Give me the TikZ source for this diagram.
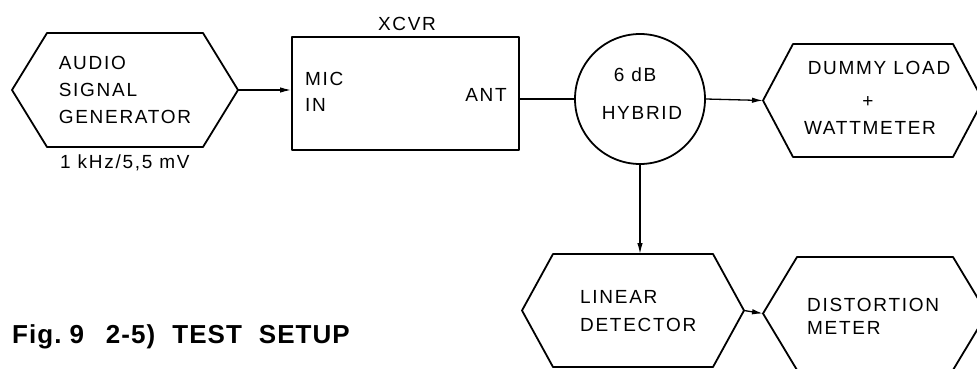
\documentclass[tikz,border=0pt]{standalone}
\usepackage{fontspec}
\setmainfont{Liberation Sans}
\usetikzlibrary{arrows.meta}
\newfontfamily\boxfont{Liberation Sans}[LetterSpace=9]
\newfontfamily\capfont{Liberation Sans Bold}[LetterSpace=4]
\tikzset{
  body/.style={draw=none, inner sep=0pt, outer sep=0pt, align=left,
    font=\boxfont\fontsize{19}{27}\selectfont},
  shapeline/.style={line width=1.8pt, line join=round},
  conn/.style={line width=1.3pt},
  arr/.style={conn, -{Latex[length=11pt,width=5.5pt]}},
  txt/.style={inner sep=0pt, align=left, font=\boxfont\fontsize{19}{26}\selectfont},
}
\newcommand\hexdraw[2]{%
  \coordinate (#1-r) at ([xshift=#2pt]#1.east);
  \coordinate (#1-l) at ([xshift=-#2pt]#1.west);
  \draw[shapeline] (#1.north west) -- (#1.north east) -- (#1-r) -- (#1.south east)
    -- (#1.south west) -- (#1-l) -- cycle;}
\begin{document}
\begin{tikzpicture}[x=1pt,y=-1pt]
\useasboundingbox (0,0) rectangle (977,369);
% audio signal generator
\node[body, minimum width=156pt, minimum height=114pt] (gen) at (125,90) {AUDIO\\SIGNAL\\GENERATOR};
\hexdraw{gen}{35}
\node[txt, anchor=west] (genlab) at (60,163) {1 kHz/5,5 mV};
% transceiver
\node[draw, shapeline, minimum width=227pt, minimum height=113pt, inner sep=0pt] (xcvr) at (405.5,93.5) {};
\node[txt] (xcvrlab) at (407,24) {XCVR};
\node[txt, anchor=west] (mic) at (305,92) {MIC\\IN};
\node[txt, anchor=east] (ant) at (507,95) {ANT};
% hybrid
\node[draw, shapeline, circle, minimum size=130pt, inner sep=0pt] (hyb) at (640,99) {};
\node[txt] (hyb1) at (635,75) {6 dB};
\node[txt] (hyb2) at (642,113) {HYBRID};
% dummy load
\node[body, align=center, minimum width=160pt, minimum height=113pt] (dum) at (873,100.5) {};
\hexdraw{dum}{30}
\node[txt] (dum1) at (879,68) {DUMMY LOAD};
\node[txt] (dum2) at (868,102) {+};
\node[txt] (dum3) at (870,128) {WATTMETER};
% linear detector
\node[body, minimum width=160pt, minimum height=113pt] (lin) at (633,310.5) {};
\hexdraw{lin}{31}
\node[txt, anchor=west, font=\boxfont\fontsize{19}{28}\selectfont] (lintxt) at (580,311) {LINEAR\\DETECTOR};
% distortion meter
\node[body, minimum width=156pt, minimum height=113pt] (dis) at (875,313.5) {};
\hexdraw{dis}{34}
\node[txt, anchor=west, font=\boxfont\fontsize{19}{23}\selectfont] (distxt) at (807,316) {DISTORTION\\METER};
% connectors
\draw[arr] (gen-r) -- (xcvr.west |- gen-r);
\draw[conn] (hyb.west -| xcvr.east) -- (hyb.west);
\draw[arr] (hyb.east) -- (dum-l);
\draw[arr] (hyb.south) -- (hyb.south |- lin.north);
\draw[arr] (lin-r) -- (dis-l);
% caption
\node[inner sep=0pt, anchor=west, font=\capfont\fontsize{26}{26}\selectfont] (cap) at (12,337) {Fig.\hspace*{8pt}9\hspace*{22pt}2-5)\hspace*{17pt}TEST\hspace*{17pt}SETUP};
\end{tikzpicture}
\end{document}
